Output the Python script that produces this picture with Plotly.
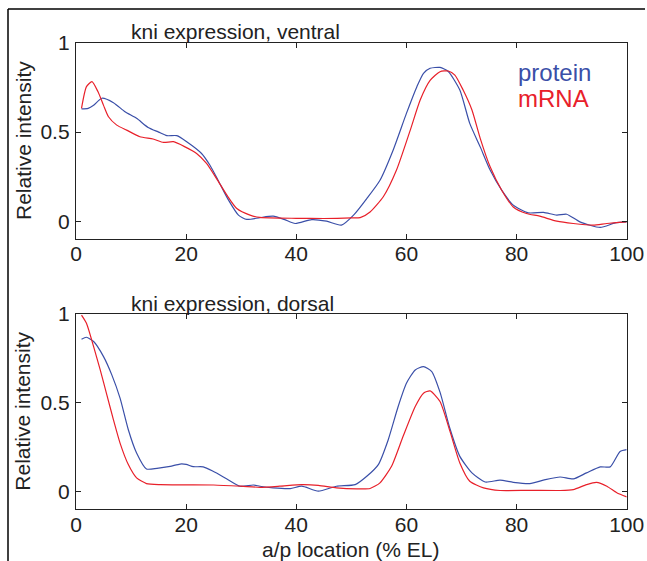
import plotly.graph_objects as go

# ---- data ----
ventral_protein_x = [1.0, 2.2, 3.2, 4.7, 6.8, 8.9, 11.0, 13.1, 15.0, 16.5, 18.3, 20.1, 22.8, 24.3, 25.8, 27.7,
                     29.5, 31.0, 33.4, 35.8, 37.8, 39.8, 42.8, 45.5, 48.2, 50.4, 52.8, 55.2, 57.6, 60.0, 61.9,
                     63.1, 64.3, 66.1, 67.6, 69.7, 71.5, 73.4, 75.2, 77.3, 79.4, 82.1, 84.9, 87.3, 89.1, 91.5,
                     95.2, 97.9, 100.0]
ventral_protein_y = [0.63, 0.633, 0.65, 0.69, 0.665, 0.614, 0.577, 0.526, 0.50, 0.48, 0.48, 0.446, 0.38, 0.315,
                     0.23, 0.118, 0.034, 0.01, 0.02, 0.028, 0.01, -0.013, 0.009, 0.0, -0.022, 0.034, 0.127, 0.23,
                     0.40, 0.605, 0.755, 0.83, 0.858, 0.863, 0.84, 0.736, 0.549, 0.417, 0.287, 0.174, 0.09, 0.047,
                     0.049, 0.034, 0.039, -0.004, -0.035, -0.01, -0.004]

ventral_mrna_x = [1.0, 1.9, 2.9, 4.0, 5.0, 5.9, 7.4, 9.2, 11.6, 14.0, 15.9, 17.7, 19.8, 21.9, 23.7, 25.5, 27.4,
                  29.2, 31.6, 33.4, 40.0, 45.0, 50.0, 51.6, 53.4, 55.8, 58.2, 60.7, 62.5, 64.3, 66.1, 67.6, 68.8,
                  70.3, 71.9, 73.4, 75.2, 77.3, 79.4, 81.8, 84.2, 87.3, 90.3, 93.9, 96.4, 100.0]
ventral_mrna_y = [0.633, 0.755, 0.783, 0.726, 0.65, 0.586, 0.539, 0.511, 0.474, 0.461, 0.442, 0.446, 0.417, 0.38,
                  0.324, 0.24, 0.146, 0.071, 0.034, 0.021, 0.016, 0.015, 0.018, 0.02, 0.052, 0.137, 0.287, 0.511,
                  0.68, 0.79, 0.839, 0.843, 0.82, 0.736, 0.624, 0.465, 0.305, 0.174, 0.08, 0.043, 0.028, 0.0,
                  -0.013, -0.022, -0.013, -0.004]

dorsal_protein_x = [1.0, 1.9, 3.2, 5.0, 6.5, 8.0, 9.5, 11.0, 12.8, 14.7, 17.1, 18.9, 20.0, 21.3, 23.1, 24.9, 27.4,
                    29.8, 32.2, 33.4, 35.8, 38.9, 41.0, 44.0, 47.3, 50.7, 52.8, 54.9, 56.7, 58.5, 60.0, 61.6, 63.1,
                    64.6, 66.1, 67.9, 69.7, 71.9, 74.3, 77.0, 79.4, 82.4, 85.2, 87.9, 90.3, 92.7, 95.2, 97.0,
                    98.8, 100.0]
dorsal_protein_y = [0.858, 0.869, 0.845, 0.76, 0.657, 0.526, 0.348, 0.217, 0.127, 0.131, 0.142, 0.155, 0.153,
                    0.14, 0.139, 0.114, 0.071, 0.03, 0.037, 0.03, 0.021, 0.017, 0.03, 0.002, 0.03, 0.039, 0.086,
                    0.152, 0.292, 0.479, 0.61, 0.685, 0.704, 0.676, 0.56, 0.355, 0.198, 0.105, 0.054, 0.064, 0.052,
                    0.045, 0.067, 0.082, 0.071, 0.105, 0.139, 0.139, 0.226, 0.236]

dorsal_mrna_x = [1.0, 1.9, 3.2, 4.4, 5.6, 6.8, 8.0, 9.5, 11.0, 12.8, 15.3, 20.0, 25.0, 30.0, 33.4, 37.0, 41.0,
                 44.0, 47.3, 51.0, 53.4, 55.2, 57.3, 59.4, 61.6, 63.1, 64.3, 66.1, 67.9, 69.7, 71.5, 74.0, 77.0,
                 82.4, 87.9, 90.3, 92.7, 94.5, 96.4, 98.2, 100.0]
dorsal_mrna_y = [0.994, 0.948, 0.816, 0.685, 0.545, 0.404, 0.273, 0.152, 0.077, 0.045, 0.039, 0.038, 0.037, 0.03,
                 0.024, 0.03, 0.039, 0.035, 0.021, 0.015, 0.017, 0.049, 0.142, 0.311, 0.479, 0.554, 0.567, 0.507,
                 0.34, 0.161, 0.058, 0.021, 0.006, 0.007, 0.006, 0.011, 0.039, 0.052, 0.03, -0.007, -0.03]

x_ticks = [0, 20, 40, 60, 80, 100]
y_ticks = [0, 0.5, 1]
y_tick_labels = ["0", "0.5", "1"]
titles = ["kni expression, ventral", "kni expression, dorsal"]
series_names = ["protein", "mRNA"]

BLUE = "#3a4fa8"
RED = "#e8202a"
W, H = 647, 561
FONT = "Liberation Sans, Arial, Helvetica, sans-serif"


def px_x(p):
    return p / W


def px_y(p):
    return 1 - p / H


fig = go.Figure()
line_kw = dict(mode="lines", line_shape="spline", showlegend=False, hoverinfo="skip")
fig.add_trace(go.Scatter(x=ventral_protein_x, y=ventral_protein_y, line=dict(color=BLUE, width=1.2, smoothing=0.6),
                         name=series_names[0], xaxis="x", yaxis="y", **line_kw))
fig.add_trace(go.Scatter(x=ventral_mrna_x, y=ventral_mrna_y, line=dict(color=RED, width=1.2, smoothing=0.6),
                         name=series_names[1], xaxis="x", yaxis="y", **line_kw))
fig.add_trace(go.Scatter(x=dorsal_protein_x, y=dorsal_protein_y, line=dict(color=BLUE, width=1.2, smoothing=0.6),
                         name=series_names[0], xaxis="x2", yaxis="y2", **line_kw))
fig.add_trace(go.Scatter(x=dorsal_mrna_x, y=dorsal_mrna_y, line=dict(color=RED, width=1.2, smoothing=0.6),
                         name=series_names[1], xaxis="x2", yaxis="y2", **line_kw))

xdom = [px_x(76), px_x(626.7)]
ax_common = dict(showline=True, linecolor="#222", linewidth=1.3, mirror="ticks", ticks="inside", ticklen=5,
                 tickwidth=1, tickcolor="#222", showgrid=False, zeroline=False, automargin=False,
                 tickfont=dict(family=FONT, size=21, color="#222"))
xa = dict(ax_common, range=[0, 100], tickvals=x_ticks, domain=xdom, ticklabelstandoff=-4)
ya = dict(ax_common, range=[-0.1, 1.0], tickvals=y_ticks, ticktext=y_tick_labels, ticklabelstandoff=1)

fig.update_layout(
    template="none",
    width=W, height=H, autosize=False, margin=dict(l=0, r=0, t=0, b=0, pad=0),
    paper_bgcolor="white", plot_bgcolor="white",
    xaxis=dict(xa, anchor="y"),
    yaxis=dict(ya, domain=[px_y(239), px_y(43)], anchor="x"),
    xaxis2=dict(xa, anchor="y2"),
    yaxis2=dict(ya, domain=[px_y(509.3), px_y(314)], anchor="x2"),
    font=dict(family=FONT, color="#222"),
)

ann = []
ann.append(dict(text=titles[0], x=px_x(129), y=px_y(31), xanchor="left", yanchor="middle"))
ann.append(dict(text=titles[1], x=px_x(129), y=px_y(303), xanchor="left", yanchor="middle"))
for yc in (141, 411.7):
    ann.append(dict(text="Relative intensity", x=px_x(23), y=px_y(yc), xanchor="center", yanchor="middle",
                    textangle=-90))
ann.append(dict(text="a/p location (% EL)", x=px_x(350), y=px_y(549), xanchor="center", yanchor="middle"))
annotations = [dict(a, xref="paper", yref="paper", showarrow=False, font=dict(family=FONT, size=21, color="#222"))
               for a in ann]
annotations.append(dict(text=series_names[0], x=px_x(516), y=px_y(72), xref="paper", yref="paper",
                        xanchor="left", yanchor="middle", showarrow=False,
                        font=dict(family=FONT, size=24, color=BLUE)))
annotations.append(dict(text=series_names[1], x=px_x(516), y=px_y(98), xref="paper", yref="paper",
                        xanchor="left", yanchor="middle", showarrow=False,
                        font=dict(family=FONT, size=24, color=RED)))
fig.update_layout(annotations=annotations)

# outer frame lines (left and top)
fig.update_layout(shapes=[
    dict(type="line", xref="paper", yref="paper", x0=px_x(8), x1=px_x(8), y0=0, y1=px_y(9),
         line=dict(color="black", width=1.5)),
    dict(type="line", xref="paper", yref="paper", x0=px_x(8), x1=px_x(645), y0=px_y(9), y1=px_y(9),
         line=dict(color="black", width=1.5)),
])

post = ("document.documentElement.style.margin='0';document.documentElement.style.padding='0';"
        "document.body.style.margin='0';document.body.style.padding='0';"
        "document.body.style.overflow='hidden';")
fig.write_html("out.html", post_script=post, config={"responsive": False, "displayModeBar": False})
